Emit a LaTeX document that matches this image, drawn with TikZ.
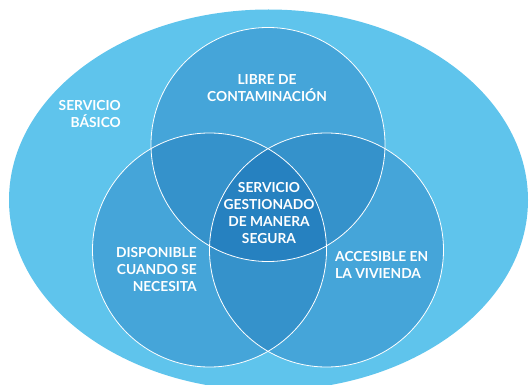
\documentclass[tikz,border=0pt]{standalone}
\usepackage{fontspec}
\setmainfont{Lato}
\definecolor{cOuter}{HTML}{5FC4EC}
\definecolor{cOne}{HTML}{45A5D9}
\definecolor{cTwo}{HTML}{3592CB}
\definecolor{cThree}{HTML}{2681C0}
\begin{document}
\begin{tikzpicture}[x=1pt,y=-1pt,
  lbl/.style={text=white,font=\fontsize{13.8}{17}\selectfont\bfseries,inner sep=0pt},
  ring/.style={draw=white,line width=0.8pt}]
\useasboundingbox (0,0) rectangle (530,385);
\begin{scope}
\clip (0,0) rectangle (530,385);
\fill[cOuter] (268.5,200) ellipse [x radius=259.5, y radius=190.5];
\end{scope}
\coordinate (ctop) at (268,144.5);
\coordinate (cleft) at (209.5,250);
\coordinate (cright) at (326.5,250);
\def\rr{117}
% single fills
\fill[cOne] (ctop) circle (\rr);
\fill[cOne] (cleft) circle (\rr);
\fill[cOne] (cright) circle (\rr);
% pairwise
\begin{scope}\clip (ctop) circle (\rr); \fill[cTwo] (cleft) circle (\rr); \fill[cTwo] (cright) circle (\rr);\end{scope}
\begin{scope}\clip (cleft) circle (\rr); \fill[cTwo] (cright) circle (\rr);\end{scope}
% triple
\begin{scope}\clip (ctop) circle (\rr); \clip (cleft) circle (\rr); \fill[cThree] (cright) circle (\rr);\end{scope}
% outlines
\draw[ring] (ctop) circle (\rr);
\draw[ring] (cleft) circle (\rr);
\draw[ring] (cright) circle (\rr);
% labels
\node[lbl,align=right,anchor=east] (basico) at (121,114.5) {SERVICIO\\BÁSICO};
\node[lbl,align=center] (libre) at (267,88) {LIBRE DE\\CONTAMINACIÓN};
\node[lbl,align=center] (gest) at (269,213) {SERVICIO\\GESTIONADO\\DE MANERA\\SEGURA};
\node[lbl,align=right,anchor=east] (disp) at (197,270) {DISPONIBLE\\CUANDO SE\\NECESITA};
\node[lbl,align=left,anchor=west] (acc) at (335,265) {ACCESIBLE EN\\LA VIVIENDA};
\end{tikzpicture}
\end{document}
